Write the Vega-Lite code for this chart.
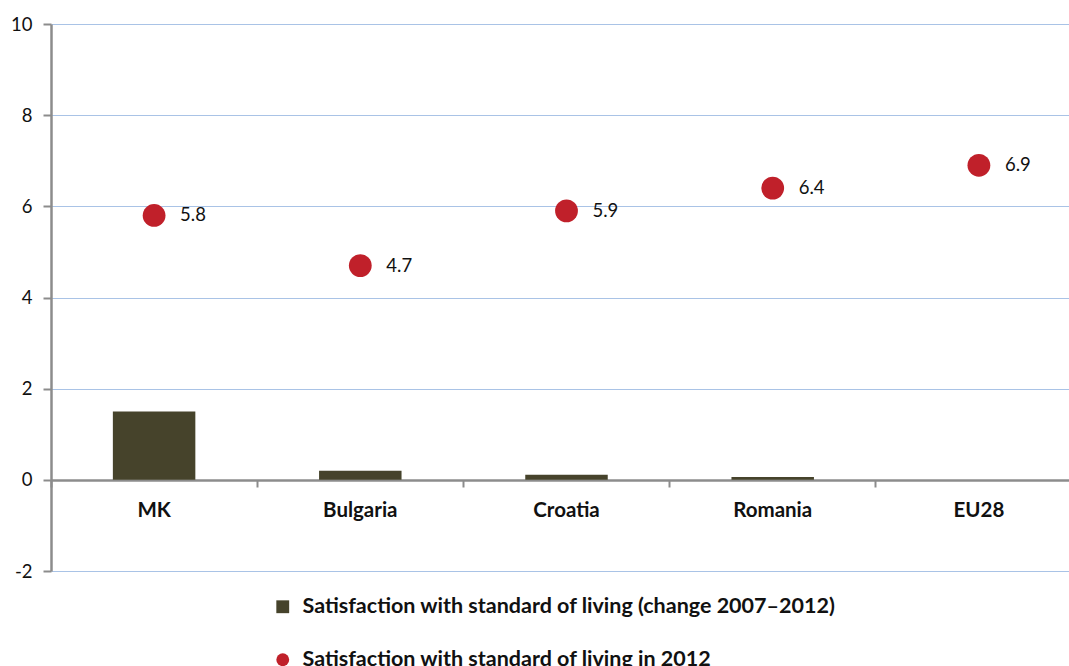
{
  "$schema": "https://vega.github.io/schema/vega-lite/v6.json",
  "autosize": {"type": "none"},
  "padding": {"left": 51, "top": 24, "right": 0, "bottom": 95},
  "width": 1031,
  "height": 547,
  "background": "white",
  "config": {
    "view": {"stroke": null},
    "font": "Lato"
  },
  "data": {
    "values": [
      {"country": "MK", "series": "Satisfaction with standard of living (change 2007–2012)", "value": 1.5},
      {"country": "Bulgaria", "series": "Satisfaction with standard of living (change 2007–2012)", "value": 0.2},
      {"country": "Croatia", "series": "Satisfaction with standard of living (change 2007–2012)", "value": 0.11},
      {"country": "Romania", "series": "Satisfaction with standard of living (change 2007–2012)", "value": 0.06},
      {"country": "EU28", "series": "Satisfaction with standard of living (change 2007–2012)", "value": 0},
      {"country": "MK", "series": "Satisfaction with standard of living in 2012", "value": 5.8},
      {"country": "Bulgaria", "series": "Satisfaction with standard of living in 2012", "value": 4.7},
      {"country": "Croatia", "series": "Satisfaction with standard of living in 2012", "value": 5.9},
      {"country": "Romania", "series": "Satisfaction with standard of living in 2012", "value": 6.4},
      {"country": "EU28", "series": "Satisfaction with standard of living in 2012", "value": 6.9}
    ]
  },
  "encoding": {
    "x": {
      "field": "country",
      "type": "nominal",
      "sort": ["MK", "Bulgaria", "Croatia", "Romania", "EU28"],
      "scale": {"paddingInner": 0, "paddingOuter": 0},
      "axis": {
        "title": null,
        "orient": "bottom",
        "offset": -91,
        "labelAngle": 0,
        "labelFont": "Lato",
        "labelFontSize": 20.5,
        "labelFontWeight": "bold",
        "labelColor": "#111111",
        "labelPadding": 13,
        "domainColor": "#8C8C8C",
        "domainWidth": 2.5,
        "tickColor": "#8C8C8C",
        "tickWidth": 2,
        "tickSize": 7,
        "bandPosition": 0,
        "grid": false
      }
    },
    "y": {
      "field": "value",
      "type": "quantitative",
      "scale": {"domain": [-2, 10], "nice": false, "zero": false},
      "axis": {
        "title": null,
        "values": [-2, 0, 2, 4, 6, 8, 10],
        "labelExpr": "datum.value < 0 ? '-' + abs(datum.value) : datum.label",
        "labelFont": "Lato",
        "labelFontSize": 18.5,
        "labelColor": "#111111",
        "labelPadding": 11,
        "domainColor": "#8C8C8C",
        "domainWidth": 2.5,
        "tickColor": "#8C8C8C",
        "tickWidth": 2,
        "tickSize": 8,
        "grid": true,
        "gridColor": "#A9C3E6",
        "gridWidth": 1.2
      }
    }
  },
  "layer": [
    {
      "transform": [{"filter": "datum.series === 'Satisfaction with standard of living (change 2007–2012)'"}],
      "mark": {"type": "bar", "width": {"band": 0.4}},
      "encoding": {
        "color": {
          "field": "series",
          "type": "nominal",
          "scale": {
            "domain": ["Satisfaction with standard of living (change 2007–2012)", "Satisfaction with standard of living in 2012"],
            "range": ["#46432B", "#C0202A"]
          },
          "legend": {
            "title": null,
            "orient": "none",
            "legendX": 221,
            "legendY": 572,
            "direction": "vertical",
            "labelFont": "Lato",
            "labelFontSize": 21.5,
            "labelFontWeight": "bold",
            "labelColor": "#111111",
            "labelLimit": 0,
            "labelOffset": 9,
            "symbolSize": 165,
            "symbolStrokeWidth": 0,
            "rowPadding": 30
          }
        }
      }
    },
    {
      "transform": [{"filter": "datum.series === 'Satisfaction with standard of living in 2012'"}],
      "mark": {"type": "point", "filled": true, "size": 520, "opacity": 1},
      "encoding": {
        "color": {"field": "series", "type": "nominal"},
        "shape": {
          "field": "series",
          "type": "nominal",
          "scale": {
            "domain": ["Satisfaction with standard of living (change 2007–2012)", "Satisfaction with standard of living in 2012"],
            "range": ["square", "circle"]
          }
        }
      }
    },
    {
      "transform": [{"filter": "datum.series === 'Satisfaction with standard of living in 2012'"}],
      "mark": {"type": "text", "align": "left", "baseline": "middle", "dx": 26, "fontSize": 18.5, "font": "Lato", "color": "#111111"},
      "encoding": {
        "text": {"field": "value", "type": "quantitative", "format": ".1f"}
      }
    }
  ]
}
